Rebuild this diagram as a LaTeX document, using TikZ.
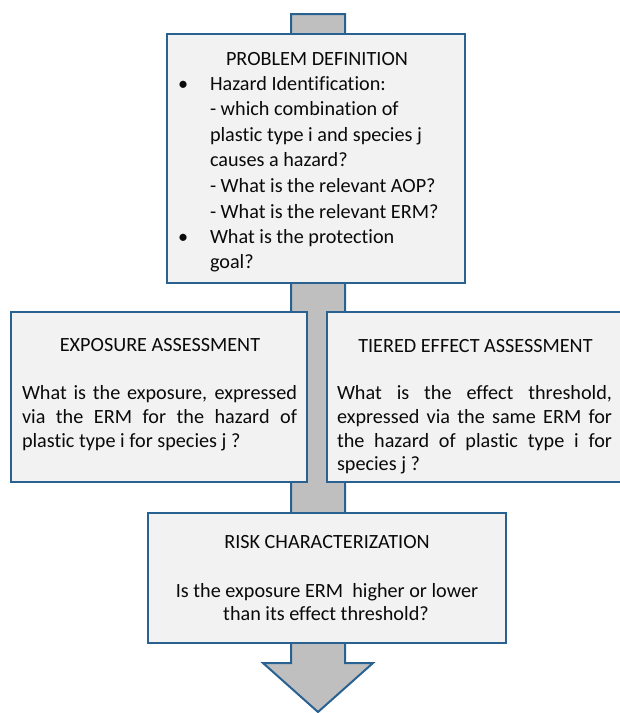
\documentclass[tikz,border=0pt]{standalone}
\usepackage{fontspec}
\setmainfont{Carlito}[Ligatures=CommonOff]
\definecolor{bord}{RGB}{41,98,145}
\definecolor{boxfill}{RGB}{242,242,242}
\definecolor{arrowfill}{RGB}{191,191,191}
\definecolor{ink}{RGB}{10,10,10}
\begin{document}
\begin{tikzpicture}[x=1pt,y=-1pt,
  box/.style={draw=bord, fill=boxfill, line width=2pt, anchor=north west, inner sep=0pt, outer sep=0pt},
  bigarrow/.style={draw=bord, fill=arrowfill, line width=2pt, line join=miter},
  txt/.style={text=ink, inner sep=0pt, outer sep=0pt, font=\fontsize{20.2}{24}\selectfont},
  tl/.style={txt, anchor=base west},
  tc/.style={txt, anchor=base}]
\useasboundingbox (0,0) rectangle (620,713);
\clip (0,0) rectangle (620,713);
\fill[white] (0,0) rectangle (620,713);
% big arrow behind the boxes
\draw[bigarrow] (291,14) -- (345,14) -- (345,663) -- (373,663) -- (318,712) -- (263,663) -- (291,663) -- cycle;
% boxes
\node[box, minimum width=298pt, minimum height=249pt] (pd) at (167,34) {};
\node[box, minimum width=296pt, minimum height=170pt] (ea) at (11,312) {};
\node[box, minimum width=300pt, minimum height=170pt] (te) at (327,312) {};
\node[box, minimum width=358pt, minimum height=130pt] (rc) at (148,513) {};
% problem definition
\node[tc] (pdt) at (317,65.5) {PROBLEM DEFINITION};
\node[tl] (b1) at (178,90) {\textbullet};
\node[tl] (p1) at (210,90) {Hazard Identification:};
\node[tl] (p2) at (210,115.5) {- which combination of};
\node[tl] (p3) at (210,141) {plastic type i and species j};
\node[tl] (p4) at (210,166.5) {causes a hazard?};
\node[tl] (p5) at (210,192.5) {- What is the relevant AOP?};
\node[tl] (p6) at (210,218) {- What is the relevant ERM?};
\node[tl] (b2) at (178,243.5) {\textbullet};
\node[tl] (p7) at (210,243.5) {What is the protection};
\node[tl] (p8) at (210,268.5) {goal?};
% exposure assessment
\node[tc] (eat) at (160,351) {EXPOSURE ASSESSMENT};
\node[tl] (e1) at (22,399) {\makebox[275pt][s]{What is the exposure, expressed}};
\node[tl] (e2) at (22,423) {\makebox[275pt][s]{via the ERM for the hazard of}};
\node[tl] (e3) at (22,447) {plastic type i for species j ?};
% tiered effect assessment
\node[tc] (tet) at (475.5,352) {TIERED EFFECT ASSESSMENT};
\node[tl] (t1) at (337,399) {\makebox[275pt][s]{What is the effect threshold,}};
\node[tl] (t2) at (337,423) {\makebox[275pt][s]{expressed via the same ERM for}};
\node[tl] (t3) at (337,447) {\makebox[275pt][s]{the hazard of plastic type i for}};
\node[tl] (t4) at (337,470.5) {species j ?};
% risk characterization
\node[tc] (rct) at (327,548) {RISK CHARACTERIZATION};
\node[tc] (r1) at (327,597) {Is the exposure ERM\ \ higher or lower};
\node[tc] (r2) at (326,620.5) {than its effect threshold?};
\end{tikzpicture}
\end{document}
